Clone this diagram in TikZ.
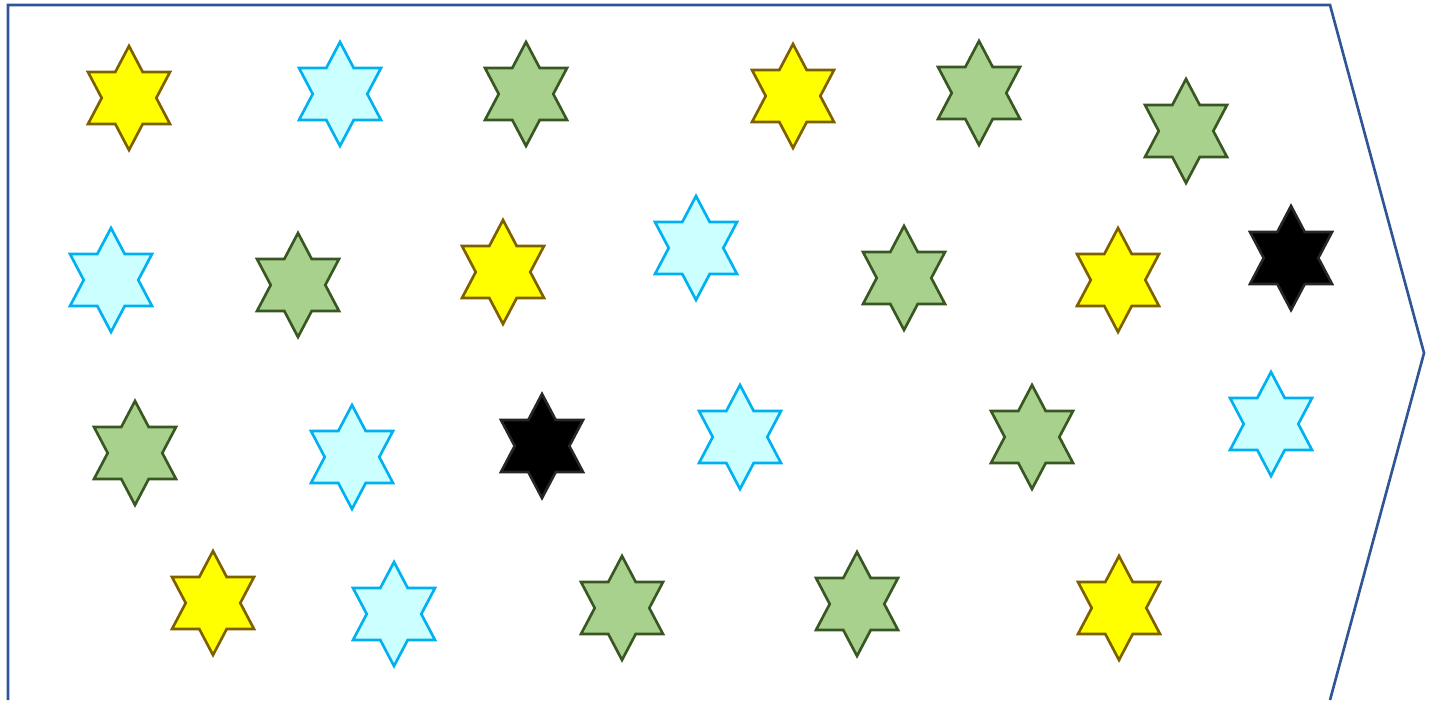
\documentclass[tikz,border=0pt]{standalone}
\usetikzlibrary{positioning}

\definecolor{sunfill}{HTML}{FFFF00}
\definecolor{olivedge}{HTML}{7F6000}
\definecolor{skyfill}{HTML}{CCFFFF}
\definecolor{skyedge}{HTML}{00B0F0}
\definecolor{leaffill}{HTML}{A9D18E}
\definecolor{leafedge}{HTML}{385723}
\definecolor{inkedge}{HTML}{262626}
\definecolor{frameblue}{HTML}{2F5597}

\tikzset{
  hexstar/.pic={
    \path[pic actions] (0,-52) -- (13.7,-26) -- (41,-26) -- (27.3,0) -- (41,26)
      -- (13.7,26) -- (0,52) -- (-13.7,26) -- (-41,26) -- (-27.3,0)
      -- (-41,-26) -- (-13.7,-26) -- cycle;
  },
  ystar/.style={fill=sunfill, draw=olivedge},
  cstar/.style={fill=skyfill, draw=skyedge},
  gstar/.style={fill=leaffill, draw=leafedge},
  kstar/.style={fill=black, draw=inkedge}
}

\begin{document}
\begin{tikzpicture}[x=0.01cm, y=-0.01cm, line width=0.75pt, line join=miter]
  \useasboundingbox (0,0) rectangle (1431,700);
  % outline of the arrow
  \draw[frameblue] (8,700) -- (8,5) -- (1330,5) -- (1424,353) -- (1330,700);
  % stars
  \foreach \x/\y in {129/98, 793/96, 503/272, 1118/280, 213/603, 1119/608}
    \pic[ystar] at (\x,\y) {hexstar};
  \foreach \x/\y in {340/94, 111/280, 696/248, 352/457, 740/437, 1271/424, 394/614}
    \pic[cstar] at (\x,\y) {hexstar};
  \foreach \x/\y in {526/94, 979/93, 1186/131, 298/285, 904/278, 135/453, 1032/437, 622/608, 857/604}
    \pic[gstar] at (\x,\y) {hexstar};
  \foreach \x/\y in {1291/258, 542/446}
    \pic[kstar] at (\x,\y) {hexstar};
\end{tikzpicture}
\end{document}
